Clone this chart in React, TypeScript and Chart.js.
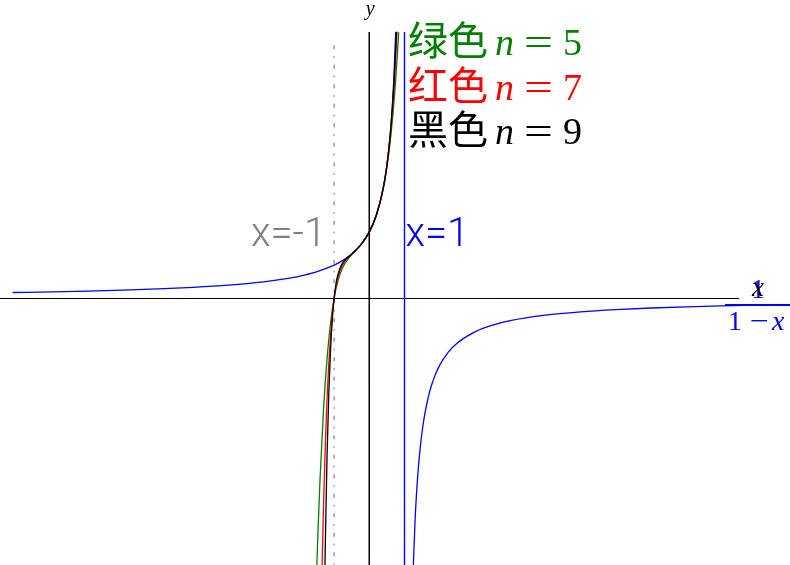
import { useEffect, useRef } from "react";
import { Chart, registerables } from "chart.js";
import type { Plugin } from "chart.js";

Chart.register(...registerables);

// y = 1/(1-x), left branch
const blueLeftX = [-10.13, -9, -8, -7, -6, -5, -4, -3, -2.5, -2, -1.5, -1, -0.75, -0.5, -0.25, 0, 0.2, 0.35, 0.5, 0.6, 0.65, 0.7, 0.75];
const blueLeftY = [0.0899, 0.1, 0.1111, 0.125, 0.1429, 0.1667, 0.2, 0.25, 0.2857, 0.3333, 0.4, 0.5, 0.5714, 0.6667, 0.8, 1, 1.25, 1.5385, 2, 2.5, 2.857, 3.333, 4];

// right branch
const blueRightX = [1.24, 1.3, 1.35, 1.4, 1.45, 1.5, 1.55, 1.6, 1.7, 1.75, 1.85, 2, 2.25, 2.5, 3, 3.5, 4, 5, 6, 7, 8, 9, 10, 11, 12];
const blueRightY = [-4.1667, -3.333, -2.857, -2.5, -2.222, -2, -1.818, -1.667, -1.4286, -1.333, -1.1765, -1, -0.8, -0.6667, -0.5, -0.4, -0.3333, -0.25, -0.2, -0.1667, -0.1429, -0.125, -0.1111, -0.1, -0.0909];

// partial sums 1 + x + ... + x^n
const n5X = [-1.5, -1.45, -1.4, -1.3, -1.2, -1.1, -1.05, -1, -0.95, -0.9, -0.8, -0.7, -0.6, -0.5, -0.25, 0, 0.2, 0.4, 0.5, 0.6, 0.7, 0.75, 0.8, 0.834];
const n5Y = [-4.1563, -3.3853, -2.7206, -1.6638, -0.9027, -0.3674, -0.1659, 0, 0.1359, 0.2466, 0.4099, 0.519, 0.5958, 0.6563, 0.7998, 1, 1.2499, 1.6598, 1.9688, 2.3834, 2.9412, 3.2881, 3.6893, 3.9969];

const n7X = [-1.36, -1.33, -1.3, -1.25, -1.2, -1.1, -1.05, -1, -0.95, -0.9, -0.8, -0.7, -0.6, -0.5, -0.25, 0, 0.2, 0.4, 0.5, 0.6, 0.7, 0.75, 0.787];
const n7Y = [-4.5353, -3.7729, -3.1119, -2.2047, -1.4999, -0.5446, -0.2329, 0, 0.1726, 0.2998, 0.4624, 0.5543, 0.6145, 0.6641, 0.8, 1, 1.25, 1.6656, 1.9922, 2.458, 3.1412, 3.5996, 4.0039];

const n9X = [-1.28, -1.25, -1.2, -1.15, -1.1, -1.05, -1, -0.95, -0.9, -0.8, -0.7, -0.6, -0.5, -0.25, 0, 0.2, 0.4, 0.5, 0.6, 0.7, 0.75, 0.768];
const n9Y = [-4.7394, -3.6948, -2.3599, -1.4165, -0.7589, -0.3068, 0, 0.2058, 0.3428, 0.4959, 0.5716, 0.6212, 0.666, 0.8, 1, 1.25, 1.6665, 1.998, 2.4849, 3.2392, 3.7748, 4.0027];

const legendNames = ["绿色", "红色", "黑色"];
const legendOrders = ["5", "7", "9"];
const legendColors = ["#008000", "#ff0000", "#000000"];

const X_MIN = -10.49;
const X_MAX = 11.95;
const Y_MIN = -4.0;
const Y_MAX = 4.48;

const pts = (xs: number[], ys: number[]) => xs.map((x, i) => ({ x, y: ys[i] }));

const curve = (data: { x: number; y: number }[], color: string, order: number) => ({
  data,
  borderColor: color,
  borderWidth: 1.3,
  pointRadius: 0,
  cubicInterpolationMode: "monotone" as const,
  fill: false,
  order,
});

const straight = (data: { x: number; y: number }[], color: string, order: number, width = 1, dash?: number[]) => ({
  data,
  borderColor: color,
  borderWidth: width,
  borderDash: dash,
  pointRadius: 0,
  tension: 0,
  fill: false,
  order,
});

const labelsPlugin: Plugin = {
  id: "labels",
  afterDatasetsDraw: (chart) => {
    const ctx = chart.ctx;
    const xs = chart.scales.x;
    const ys = chart.scales.y;
    const x0 = xs.getPixelForValue(0);
    const y0 = ys.getPixelForValue(0);
    ctx.save();
    ctx.textBaseline = "alphabetic";

    // axis names
    ctx.fillStyle = "#000";
    ctx.textAlign = "center";
    ctx.font = 'italic 20px "Liberation Serif"';
    ctx.fillText("y", x0 + 1, 15);

    // asymptote labels
    ctx.textAlign = "left";
    ctx.font = '300 40px Roboto';
    ctx.fillStyle = "#808080";
    ctx.fillText("x=-1", 251, 246);
    ctx.fillStyle = "#0000ff";
    ctx.fillText("x=1", xs.getPixelForValue(1) + 1, 246);

    // legend
    legendNames.forEach((name, i) => {
      const base = 55 + i * 44.5;
      ctx.fillStyle = legendColors[i];
      ctx.textAlign = "left";
      ctx.font = '40px "Noto Sans CJK SC"';
      ctx.fillText(name, 408, base);
      ctx.font = 'italic 38px "Liberation Serif"';
      ctx.fillText("n", 495, base);
      ctx.font = '38px "Liberation Serif"';
      ctx.save();
      ctx.translate(524, base);
      ctx.scale(1.35, 1);
      ctx.fillText("=", 0, 0);
      ctx.restore();
      ctx.fillText(legendOrders[i], 563, base);
    });

    // function name 1/(1-x)
    ctx.fillStyle = "#0000ff";
    ctx.font = '28px "Liberation Serif"';
    ctx.textAlign = "center";
    ctx.fillText("1", 758, 298);
    ctx.fillStyle = "#000";
    ctx.font = 'italic 27px "Liberation Serif"';
    ctx.fillText("x", 758, y0 - 2);
    ctx.strokeStyle = "#0000ff";
    ctx.lineWidth = 2;
    ctx.beginPath();
    ctx.moveTo(725, y0 + 6.5);
    ctx.lineTo(790, y0 + 6.5);
    ctx.stroke();
    ctx.fillStyle = "#0000ff";
    ctx.textAlign = "left";
    ctx.font = '28px "Liberation Serif"';
    ctx.fillText("1", 728, 330);
    ctx.save();
    ctx.translate(750, 330);
    ctx.scale(1.2, 1);
    ctx.fillText("\u2212", 0, 0);
    ctx.restore();
    ctx.font = 'italic 28px "Liberation Serif"';
    ctx.fillText("x", 772, 330);
    ctx.restore();
  },
};

export default function App() {
  const ref = useRef<HTMLCanvasElement>(null);

  useEffect(() => {
    if (!ref.current) return;
    const chart = new Chart(ref.current, {
      type: "line",
      plugins: [labelsPlugin],
      data: {
        datasets: [
          curve(pts(n9X, n9Y), "#000000", 1),
          curve(pts(n7X, n7Y), "#ff0000", 2),
          curve(pts(n5X, n5Y), "#008000", 3),
          curve(pts(blueLeftX, blueLeftY), "#0000ff", 4),
          curve(pts(blueRightX, blueRightY), "#0000ff", 4),
          straight(pts([1, 1], [4, -4.2]), "#0000ff", 5, 1.4),
          straight(pts([-10.5, 10.5], [0, 0]), "#000000", 6, 1),
          straight(pts([0, 0], [4, -4.2]), "#000000", 6, 1),
          straight(pts([-1, -1], [3.8, -4.2]), "#808080", 7, 1.2, [4, 7, 1.5, 7]),
        ] as any,
      },
      options: {
        animation: false,
        responsive: false,
        events: [],
        layout: { padding: 0 },
        plugins: {
          legend: { display: false },
          tooltip: { enabled: false },
        },
        scales: {
          x: { type: "linear", min: X_MIN, max: X_MAX, display: false },
          y: { type: "linear", min: Y_MIN, max: Y_MAX, display: false },
        },
      },
    });
    return () => chart.destroy();
  }, []);

  return (
    <div style={{ position: "fixed", left: 0, top: 0, width: 790, height: 565, background: "#fff" }}>
      <canvas ref={ref} width={790} height={565} />
    </div>
  );
}
